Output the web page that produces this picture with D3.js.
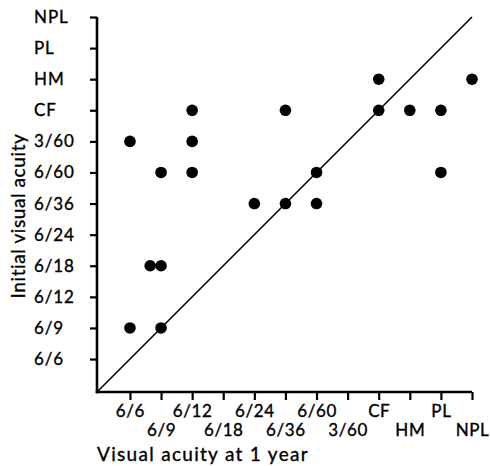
<!DOCTYPE html>
<html>
<head>
<meta charset="utf-8">
<script src="https://cdn.jsdelivr.net/npm/d3@7"></script>
<style>
  html, body { margin: 0; padding: 0; background: #fff; }
  svg { display: block; }
  text { font-family: "Lato", "Open Sans", sans-serif; fill: #000; stroke: #000; stroke-width: 0.35px; }
</style>
</head>
<body>
<svg id="chart" width="490" height="466"></svg>
<script>
// Ordered acuity categories (best to worst)
const xLabels = ["6/6", "6/9", "6/12", "6/18", "6/24", "6/36", "6/60", "3/60", "CF", "HM", "PL", "NPL"];
const yLabels = ["6/6", "6/9", "6/12", "6/18", "6/24", "6/36", "6/60", "3/60", "CF", "HM", "PL", "NPL"];

// Each point: visual acuity at 1 year (x, category index), initial visual acuity (y, category index)
const pointX = [0, 2, 2, 1, 2, 0.65, 1, 0, 1, 5, 8, 8, 9, 10, 11, 6, 10, 4, 5, 6];
const pointY = [7, 8, 7, 6, 6, 3, 3, 1, 1, 8, 9, 8, 8, 8, 9, 6, 6, 5, 5, 5];

const xTitle = "Visual acuity at 1 year";
const yTitle = "Initial visual acuity";

const svg = d3.select("#chart");

const x = d3.scaleLinear().domain([-1.06, 11]).range([97, 472]);
const y = d3.scaleLinear().domain([-1.06, 11]).range([392, 17]);
const idx = d3.range(xLabels.length);

// Diagonal line of equality
svg.append("line")
  .attr("x1", x(-1.06)).attr("y1", y(-1.06))
  .attr("x2", x(11)).attr("y2", y(11))
  .attr("stroke", "#000").attr("stroke-width", 1.6);

// X axis
const gx = svg.append("g")
  .attr("transform", `translate(0,${y(-1.06)})`)
  .call(d3.axisBottom(x).tickValues(idx).tickFormat(i => xLabels[i])
        .tickSizeInner(8).tickSizeOuter(0).tickPadding(3));
gx.select(".domain").attr("stroke-width", 2.6);
gx.selectAll(".tick line").attr("stroke-width", 2.2);
gx.selectAll(".tick text")
  .attr("font-size", 17)
  .attr("letter-spacing", 0.6)
  .attr("y", (d) => d % 2 === 0 ? 13 : 32);

// Y axis
const gy = svg.append("g")
  .attr("transform", `translate(${x(-1.06)},0)`)
  .call(d3.axisLeft(y).tickValues(idx).tickFormat(i => yLabels[i])
        .tickSizeInner(7).tickSizeOuter(0));
gy.select(".domain").attr("stroke-width", 2.6);
gy.selectAll(".tick line").attr("stroke-width", 2.2);
gy.selectAll(".tick text")
  .attr("font-size", 17)
  .attr("letter-spacing", 0.9)
  .attr("text-anchor", "start")
  .attr("x", -63);

// Extend axes to cover the corner
gx.select(".domain").attr("d", `M${x(-1.06) - 1.3},0H${x(11)}`);
gy.select(".domain").attr("d", `M0,${y(-1.06) + 1.3}V${y(11)}`);

// Points
svg.append("g").selectAll("circle")
  .data(pointX.map((v, i) => ({ x: v, y: pointY[i] })))
  .join("circle")
  .attr("cx", d => x(d.x))
  .attr("cy", d => y(d.y))
  .attr("r", 5.8)
  .attr("fill", "#000");

// Axis titles
svg.append("text")
  .attr("x", 97).attr("y", 461)
  .attr("font-size", 19)
  .attr("letter-spacing", 1.3)
  .text(xTitle);

svg.append("text")
  .attr("transform", `translate(25,216) rotate(-90)`)
  .attr("text-anchor", "middle")
  .attr("font-size", 19)
  .attr("letter-spacing", 0.6)
  .text(yTitle);
</script>
</body>
</html>
